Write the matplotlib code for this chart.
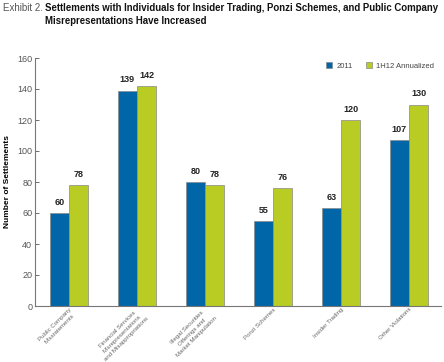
import matplotlib.pyplot as plt
import numpy as np

plt.rcParams["font.family"] = ["Liberation Sans", "DejaVu Sans"]

categories = [
    "Public Company\nMisstatements",
    "Financial Services\nMisrepresentations\nand Misappropriations",
    "Illegal Securities\nOfferings and\nMarket Manipulation",
    "Ponzi Schemes",
    "Insider Trading",
    "Other Violations",
]
values_2011 = [60, 139, 80, 55, 63, 107]
values_1h12 = [78, 142, 78, 76, 120, 130]
series_names = ["2011", "1H12 Annualized"]
yticks = [0, 20, 40, 60, 80, 100, 120, 140, 160]

BLUE = "#0066a8"
GREEN = "#b8cc24"
GREY = "#555555"

fig = plt.figure(figsize=(4.44, 3.62), dpi=100)
ax = fig.add_axes([35 / 444, 56 / 362, 406 / 444, 248 / 362])

x = np.arange(len(categories))
w = 0.285
b1 = ax.bar(x - w / 2, values_2011, w, color=BLUE, edgecolor="#8a8a8a", linewidth=0.5)
b2 = ax.bar(x + w / 2, values_1h12, w, color=GREEN, edgecolor="#8a8a8a", linewidth=0.5)

for bars, vals in ((b1, values_2011), (b2, values_1h12)):
    for rect, v in zip(bars, vals):
        ax.text(rect.get_x() + rect.get_width() / 2, v + 4, str(v),
                ha="center", va="bottom", fontsize=6.5, fontweight="bold", color="#222222")

ax.set_xlim(-0.5, 5.47)
ax.set_ylim(0, 160)
ax.set_yticks(yticks)
ax.tick_params(axis="y", direction="in", length=3, width=0.6, colors=GREY,
               labelsize=6.5, pad=2)
ax.tick_params(axis="x", length=0, labelsize=4.4, colors="#666666", pad=0.5)
ax.set_xticks(x)
ax.set_xticklabels(categories, rotation=45, ha="right", rotation_mode="anchor",
                   multialignment="center", linespacing=1.35)

for s in ("top", "right"):
    ax.spines[s].set_visible(False)
for s in ("left", "bottom"):
    ax.spines[s].set_color("#777777")
    ax.spines[s].set_linewidth(0.8)

ax.set_ylabel("Number of Settlements", fontsize=6, fontweight="bold")
ax.yaxis.set_label_coords(-24 / 406, 0.5)

ax.legend([b1, b2], series_names, loc="upper right", bbox_to_anchor=(1.0, 1.01),
          ncol=2, frameon=False, fontsize=5.5, handlelength=0.8, handleheight=0.8,
          columnspacing=1.8, handletextpad=0.5, labelcolor="#444444")

fig.text(3 / 444, 1 - 8 / 362, "Exhibit 2.", fontsize=7, color="#555555",
         va="center", ha="left")
fig.text(45 / 444, 1 - 8 / 362,
         "Settlements with Individuals for Insider Trading, Ponzi Schemes, and Public Company",
         fontsize=6.9, fontweight="bold", color="#111111", va="center", ha="left")
fig.text(45 / 444, 1 - 21 / 362, "Misrepresentations Have Increased",
         fontsize=6.9, fontweight="bold", color="#111111", va="center", ha="left")

fig.savefig("out.png", dpi=100)
